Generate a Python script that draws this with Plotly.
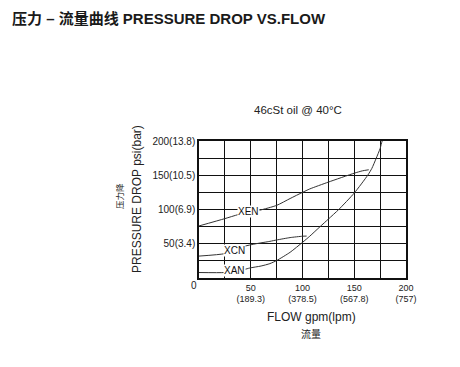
import plotly.graph_objects as go

# ---- data ----
xen_flow = [0, 25, 37.7, 48, 58.7, 75, 88, 100, 107, 125, 150, 158, 164]
xen_psi = [76, 86.7, 92.5, 96, 99, 106, 116, 125, 130, 140, 153, 156.5, 158]

xcn_flow = [0, 25, 34, 43, 55, 68.5, 75, 88, 100, 104]
xcn_psi = [32, 35.6, 41, 46, 50, 53.5, 55.5, 59, 61, 61.2]

xan_flow = [0, 25, 34, 44, 49, 60, 68.5, 75, 88, 100, 107, 117, 125, 135, 150, 163, 167, 171, 175, 177, 180]
xan_psi = [8, 8, 10, 12.5, 14.6, 17.5, 21, 25.5, 37.5, 52, 61, 75, 86, 100, 124, 150, 160, 174, 189, 200, 206]

x_tick_vals = [0, 25, 50, 75, 100, 125, 150, 175, 200]
x_tick_text = ["", "", "50<br>(189.3)", "", "100<br>(378.5)", "", "150<br>(567.8)", "", "200<br>(757)"]
y_tick_vals = [0, 25, 50, 75, 100, 125, 150, 175, 200]
y_tick_text = ["", "", "50(3.4)", "", "100(6.9)", "", "150(10.5)", "", "200(13.8)"]

series_labels = ["XEN", "XCN", "XAN"]
label_pos_flow = [48, 34, 34]
label_pos_psi = [97, 40, 10.5]

title_text = "压力 – 流量曲线 PRESSURE DROP VS.FLOW"
subtitle_text = "46cSt oil @ 40°C"
y_title = "PRESSURE DROP psi(bar)"
y_title_cn = "压力降"
x_title = "FLOW gpm(lpm)"
x_title_cn = "流量"

# ---- figure ----
OFF = 8  # page body margin
W, H = 460 - OFF, 367 - OFF
ML, MR, MT, MB = 199 - OFF, 54, 141 - OFF, 89
PW, PH = W - ML - MR, H - MT - MB
FONT = "Liberation Sans, Arial, Noto Sans CJK SC, sans-serif"
CJK = "Noto Sans CJK SC, Liberation Sans, sans-serif"


def px(x):
    return (x - OFF - ML) / PW


def py(y):
    return (H - MB - (y - OFF)) / PH


fig = go.Figure()
line_style = dict(color="#333333", width=1, shape="spline", smoothing=0.6)
for fl, ps in [(xen_flow, xen_psi), (xcn_flow, xcn_psi), (xan_flow, xan_psi)]:
    fig.add_trace(go.Scatter(x=fl, y=ps, mode="lines", line=line_style,
                             cliponaxis=False, showlegend=False, hoverinfo="skip"))

annotations = []
for lab, fx, fy in zip(series_labels, label_pos_flow, label_pos_psi):
    annotations.append(dict(x=fx, y=fy, xref="x", yref="y", text=lab, showarrow=False,
                            font=dict(family=FONT, size=10, color="#111111"),
                            bgcolor="white", borderpad=0))

annotations += [
    dict(x=px(10), y=py(18), xref="paper", yref="paper", xanchor="left", yanchor="middle",
         text="<b>" + title_text + "</b>", showarrow=False,
         font=dict(family=FONT, size=15, color="#1a1a1a")),
    dict(x=px(297.5), y=py(110), xref="paper", yref="paper", xanchor="center", yanchor="middle",
         text=subtitle_text, showarrow=False, font=dict(family=FONT, size=11.5, color="#222222")),
    dict(x=px(137), y=py(199), xref="paper", yref="paper", xanchor="center", yanchor="middle",
         text=y_title, textangle=-90, showarrow=False, font=dict(family=FONT, size=12, color="#222222")),
    dict(x=px(119), y=py(196), xref="paper", yref="paper", xanchor="center", yanchor="middle",
         text=y_title_cn, textangle=-90, showarrow=False, font=dict(family=CJK, size=8.5, color="#222222")),
    dict(x=px(194), y=py(285.5), xref="paper", yref="paper", xanchor="center", yanchor="middle",
         text="0", showarrow=False, font=dict(family=FONT, size=10, color="#222222")),
    dict(x=px(311), y=py(317), xref="paper", yref="paper", xanchor="center", yanchor="middle",
         text=x_title, showarrow=False, font=dict(family=FONT, size=12, color="#222222")),
    dict(x=px(311), y=py(333), xref="paper", yref="paper", xanchor="center", yanchor="middle",
         text=x_title_cn, showarrow=False, font=dict(family=CJK, size=10, color="#222222")),
]

axis_common = dict(showgrid=True, gridcolor="#111111", gridwidth=1.4, zeroline=False,
                   showline=True, linecolor="#111111", linewidth=1.5, mirror=True,
                   ticks="", fixedrange=True)

fig.update_layout(
    width=W, height=H, margin=dict(l=ML, r=MR, t=MT, b=MB, pad=0),
    paper_bgcolor="white", plot_bgcolor="white",
    xaxis=dict(range=[0, 200], tickmode="array", tickvals=x_tick_vals, ticktext=x_tick_text,
               tickfont=dict(family=FONT, size=9, color="#222222"), **axis_common),
    yaxis=dict(range=[0, 200], tickmode="array", tickvals=y_tick_vals, ticktext=y_tick_text,
               tickfont=dict(family=FONT, size=10, color="#222222"), **axis_common),
    annotations=annotations,
)

fig.write_html("out.html", config={"displayModeBar": False})
